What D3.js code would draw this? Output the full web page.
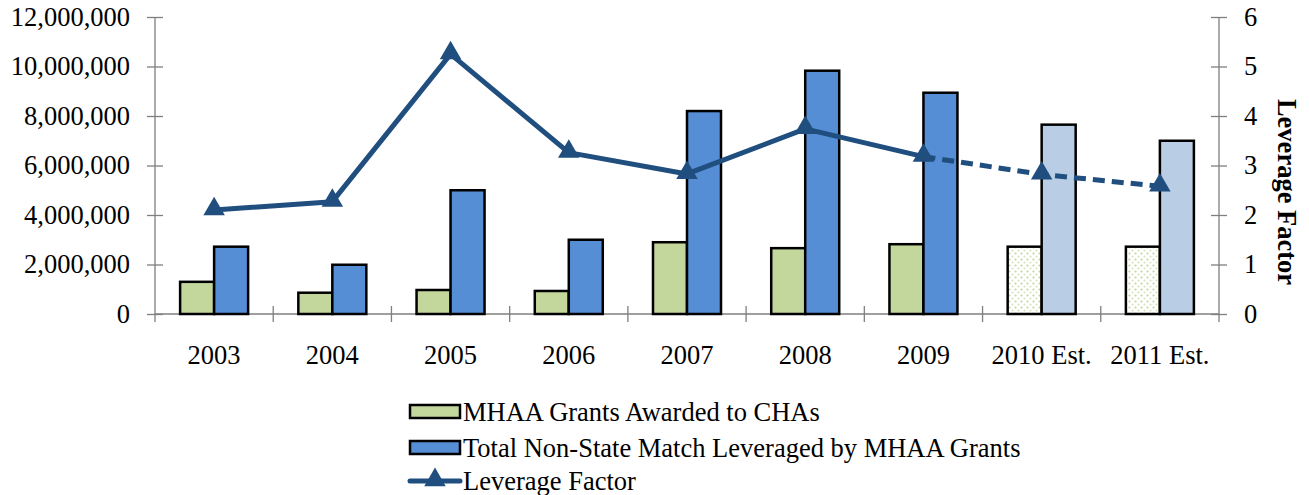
<!DOCTYPE html>
<html>
<head>
<meta charset="utf-8">
<script src="https://cdn.jsdelivr.net/npm/d3@7"></script>
<style>
  body { margin: 0; background: #fff; }
  svg text { font-family: "Liberation Serif", Tinos, "Times New Roman", Times, "DejaVu Serif", serif; fill: #000; }
</style>
</head>
<body>
<svg width="1309" height="495"></svg>
<script>
// data
var years = ['2003', '2004', '2005', '2006', '2007', '2008', '2009', '2010 Est.', '2011 Est.'];
var grants = [1300000, 860000, 970000, 930000, 2900000, 2660000, 2820000, 2720000, 2720000];
var match = [2720000, 1990000, 5000000, 3000000, 8200000, 9830000, 8940000, 7650000, 7000000];
var leverage = [2.10, 2.27, 5.25, 3.26, 2.83, 3.74, 3.18, 2.82, 2.58];
var estimated = [false, false, false, false, false, false, false, true, true];
var leftTicks = [0, 2000000, 4000000, 6000000, 8000000, 10000000, 12000000];
var rightTicks = [0, 1, 2, 3, 4, 5, 6];
var legendLabels = ['MHAA Grants Awarded to CHAs', 'Total Non-State Match Leveraged by MHAA Grants', 'Leverage Factor'];

var svg = d3.select('svg');
var plotLeft = 155, plotRight = 1219, plotTop = 17, plotBottom = 314;
var axisColor = '#7f7f7f';
var green = '#c3d69b', blue = '#558ed5', lightBlue = '#b9cde5', lineColor = '#1f4e7f';
var fontSize = '26.5px';
var serif = '"Liberation Serif", Tinos, "Times New Roman", Times, "DejaVu Serif", serif';

var defs = svg.append('defs');
var pat = defs.append('pattern')
  .attr('id', 'dots')
  .attr('width', 6).attr('height', 6)
  .attr('patternUnits', 'userSpaceOnUse');
pat.append('rect').attr('width', 6).attr('height', 6).attr('fill', '#fff');
pat.append('circle').attr('cx', 1.5).attr('cy', 1.5).attr('r', 1.1).attr('fill', '#c3d69b');
pat.append('circle').attr('cx', 4.5).attr('cy', 4.5).attr('r', 1.1).attr('fill', '#d7e4bc');

var x = d3.scaleBand().domain(years).range([plotLeft, plotRight]);
var yL = d3.scaleLinear().domain([0, 12000000]).range([plotBottom, plotTop]);
var yR = d3.scaleLinear().domain([0, 6]).range([plotBottom, plotTop]);
var barW = 34;

// axes
var gL = svg.append('g').attr('transform', 'translate(' + plotLeft + ',0)')
  .call(d3.axisLeft(yL).tickValues(leftTicks).tickFormat(d3.format(',')).tickSizeInner(8).tickSizeOuter(0).tickPadding(17));
var gR = svg.append('g').attr('transform', 'translate(' + plotRight + ',0)')
  .call(d3.axisRight(yR).tickValues(rightTicks).tickFormat(d3.format('d')).tickSizeInner(8).tickSizeOuter(0).tickPadding(17));
[gL, gR].forEach(function(g) {
  g.attr('font-family', serif);
  g.select('.domain').attr('stroke', axisColor).attr('stroke-width', 1.3)
    .attr('d', 'M0,' + plotTop + 'V' + (plotBottom + 8));
  g.selectAll('.tick line').attr('stroke', axisColor).attr('stroke-width', 1.3)
    .attr('x1', function() { return g === gL ? 8 : -8; });
  g.selectAll('.tick text').style('font-size', fontSize).style('font-family', serif).attr('fill', '#000');
});

// x baseline and separator ticks
svg.append('line').attr('x1', plotLeft).attr('x2', plotRight).attr('y1', plotBottom).attr('y2', plotBottom)
  .attr('stroke', axisColor).attr('stroke-width', 1.3);
svg.selectAll('line.sep').data(years.slice(1)).enter().append('line')
  .attr('class', 'sep')
  .attr('x1', function(d) { return x(d); }).attr('x2', function(d) { return x(d); })
  .attr('y1', plotBottom - 8).attr('y2', plotBottom + 8)
  .attr('stroke', axisColor).attr('stroke-width', 1.3);
svg.selectAll('text.cat').data(years).enter().append('text')
  .attr('class', 'cat')
  .attr('x', function(d) { return x(d) + x.bandwidth() / 2; })
  .attr('y', 364)
  .attr('text-anchor', 'middle')
  .style('font-size', fontSize)
  .text(function(d) { return d; });

// bars
svg.selectAll('rect.grant').data(years).enter().append('rect')
  .attr('class', 'grant')
  .attr('x', function(d) { return x(d) + x.bandwidth() / 2 - barW; })
  .attr('y', function(d, i) { return yL(grants[i]); })
  .attr('width', barW)
  .attr('height', function(d, i) { return plotBottom - yL(grants[i]); })
  .attr('fill', function(d, i) { return estimated[i] ? 'url(#dots)' : green; })
  .attr('stroke', '#000').attr('stroke-width', 2.5);
svg.selectAll('rect.match').data(years).enter().append('rect')
  .attr('class', 'match')
  .attr('x', function(d) { return x(d) + x.bandwidth() / 2; })
  .attr('y', function(d, i) { return yL(match[i]); })
  .attr('width', barW)
  .attr('height', function(d, i) { return plotBottom - yL(match[i]); })
  .attr('fill', function(d, i) { return estimated[i] ? lightBlue : blue; })
  .attr('stroke', '#000').attr('stroke-width', 2.5);

// leverage line
var pts = years.map(function(d, i) { return [x(d) + x.bandwidth() / 2, yR(leverage[i]), i]; });
var line = d3.line();
var lastActual = estimated.indexOf(true) - 1;
svg.append('path').datum(pts.slice(0, lastActual + 1))
  .attr('d', line).attr('fill', 'none')
  .attr('stroke', lineColor).attr('stroke-width', 5).attr('stroke-linejoin', 'round');
svg.append('path').datum(pts.slice(lastActual))
  .attr('d', line).attr('fill', 'none')
  .attr('stroke', lineColor).attr('stroke-width', 5).attr('stroke-dasharray', '12,7');
var tri = d3.symbol().type(d3.symbolTriangle).size(200);
svg.selectAll('path.marker').data(pts).enter().append('path')
  .attr('class', 'marker')
  .attr('d', tri)
  .attr('transform', function(d) { return 'translate(' + d[0] + ',' + (d[1] - 1) + ')'; })
  .attr('fill', lineColor);

// right axis title
svg.append('text')
  .attr('transform', 'translate(1278,192) rotate(90)')
  .attr('text-anchor', 'middle')
  .style('font-size', fontSize).style('font-weight', 'bold')
  .text('Leverage Factor');

// legend
var lg = svg.append('g');
var rows = [412, 448, 481];
lg.append('rect').attr('x', 410).attr('y', rows[0] - 7).attr('width', 50).attr('height', 13)
  .attr('fill', green).attr('stroke', '#000').attr('stroke-width', 2.5);
lg.append('rect').attr('x', 410).attr('y', rows[1] - 7).attr('width', 50).attr('height', 13)
  .attr('fill', blue).attr('stroke', '#000').attr('stroke-width', 2.5);
lg.append('line').attr('x1', 410).attr('x2', 460).attr('y1', rows[2]).attr('y2', rows[2])
  .attr('stroke', lineColor).attr('stroke-width', 5).attr('stroke-linecap', 'round');
lg.append('path').attr('d', tri).attr('transform', 'translate(435,' + (rows[2] - 1) + ')').attr('fill', lineColor);
lg.selectAll('text').data(legendLabels).enter().append('text')
  .attr('x', 463)
  .attr('y', function(d, i) { return rows[i] + 9; })
  .style('font-size', fontSize)
  .text(function(d) { return d; });
</script>
</body>
</html>
